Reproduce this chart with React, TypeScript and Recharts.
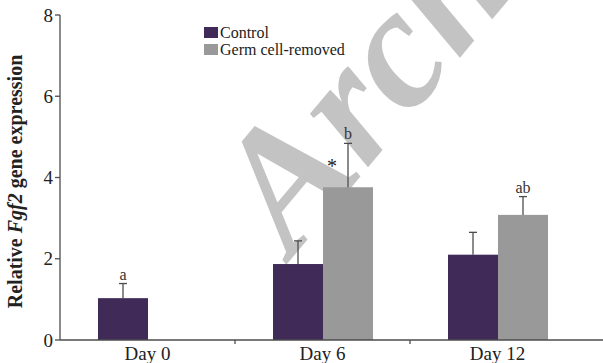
import React from "react"
import { BarChart, Bar, XAxis, YAxis, Legend, Customized } from "recharts"

const days = ["Day 0", "Day 6", "Day 12"]
const control = [1.03, 1.87, 2.1]
const controlErr = [0.36, 0.57, 0.55]
const germ = [null, 3.76, 3.08]
const germErr = [null, 1.08, 0.45]
const controlMarks = ["a", "", ""]
const germMarks = ["", "b", "ab"]
const starred = [false, true, false]
const yTicks = [0, 2, 4, 6, 8]

const data = days.map((day, i) => ({
  day,
  control: control[i],
  controlErr: controlErr[i],
  controlMark: controlMarks[i],
  germ: germ[i],
  germErr: germErr[i],
  germMark: germMarks[i],
  star: starred[i],
}))

const FONT = "'Liberation Serif', 'DejaVu Serif', serif"
const PURPLE = "#402a57"
const GREY = "#999999"
const AXIS = "#4d4d4d"

const barWithError = (valueKey: string, errKey: string, markKey: string, fill: string) =>
  (props: any) => {
    const { x, y, width, height, payload } = props
    const value = payload[valueKey]
    if (value == null || !height) return <g />
    const perUnit = height / value
    const cx = x + width / 2
    const top = y - payload[errKey] * perUnit
    const mark = payload[markKey]
    return (
      <g>
        <rect x={x} y={y} width={width} height={height} fill={fill} />
        <line x1={cx} y1={y} x2={cx} y2={top} stroke={AXIS} strokeWidth={1.3} />
        <line x1={cx - 4} y1={top} x2={cx + 4} y2={top} stroke={AXIS} strokeWidth={1.3} />
        {mark ? (
          <text x={cx} y={top - 4} textAnchor="middle" fontFamily={FONT} fontSize={16} fill="#333">
            {mark}
          </text>
        ) : null}
        {valueKey === "germ" && payload.star ? (
          <text x={cx - 16} y={top + 30} textAnchor="middle" fontFamily={FONT} fontSize={20} fill="#222">
            *
          </text>
        ) : null}
      </g>
    )
  }

const DayTick = (props: any) => {
  const { x, y, payload, index } = props
  const start = x - (payload.offset || 0)
  return (
    <g>
      {index > 0 ? <line x1={start} y1={y - 8} x2={start} y2={y - 4} stroke={AXIS} strokeWidth={1.3} /> : null}
      <text x={x} y={y + 12} textAnchor="middle" fontFamily={FONT} fontSize={19} fill="#222">
        {payload.value}
      </text>
    </g>
  )
}

const YLabel = (props: any) => {
  const { viewBox } = props
  const cx = viewBox.x + 22
  const cy = viewBox.y + viewBox.height / 2 + 4
  return (
    <text
      x={cx}
      y={cy}
      transform={`rotate(-90, ${cx}, ${cy})`}
      textAnchor="middle"
      fontFamily={FONT}
      fontWeight="bold"
      fontSize={20}
      fill="#222"
    >
      Relative <tspan fontStyle="italic">Fgf2</tspan> gene expression
    </text>
  )
}

const LegendBox = (props: any) => {
  const { payload } = props
  return (
    <div style={{ fontFamily: FONT, fontSize: 16, color: "#222", lineHeight: "17px" }}>
      {payload.map((p: any) => (
        <div key={p.value} style={{ display: "flex", alignItems: "center" }}>
          <span style={{ width: 14, height: 11, background: p.color, marginRight: 2, display: "inline-block" }} />
          {p.value}
        </div>
      ))}
    </div>
  )
}

const Watermark = () => (
  <text
    x={292}
    y={258}
    transform="rotate(-50, 292, 258)"
    fontFamily={FONT}
    fontStyle="italic"
    fontWeight="bold"
    fontSize={172}
    fill="#767676"
    opacity={0.43}
  >
    Archives
  </text>
)

export default function App() {
  return (
    <div style={{ position: "absolute", left: 0, top: 0, background: "#fff" }}>
      <BarChart
        width={603}
        height={363}
        data={data}
        margin={{ top: 15, right: 0, left: 0, bottom: 0 }}
        barSize={50}
        barGap={0}
      >
        <XAxis
          dataKey="day"
          height={23}
          stroke={AXIS}
          strokeWidth={1.3}
          tickLine={false}
          tick={<DayTick />}
          padding={{ left: 0, right: 18 }}
          interval={0}
        />
        <YAxis
          width={60}
          domain={[0, 8]}
          ticks={yTicks}
          stroke={AXIS}
          strokeWidth={1.3}
          tickSize={5}
          tickMargin={2}
          tick={{ fontFamily: FONT, fontSize: 19, fill: "#222" }}
          label={<YLabel />}
        />
        <Legend
          layout="horizontal"
          align="center"
          verticalAlign="middle"
          wrapperStyle={{ left: 204, top: 24, width: 200 }}
          content={<LegendBox />}
        />
        <Bar
          dataKey="control"
          name="Control"
          fill={PURPLE}
          isAnimationActive={false}
          shape={barWithError("control", "controlErr", "controlMark", PURPLE)}
        />
        <Bar
          dataKey="germ"
          name="Germ cell-removed"
          fill={GREY}
          isAnimationActive={false}
          shape={barWithError("germ", "germErr", "germMark", GREY)}
        />
        <Customized component={Watermark} />
      </BarChart>
    </div>
  )
}
